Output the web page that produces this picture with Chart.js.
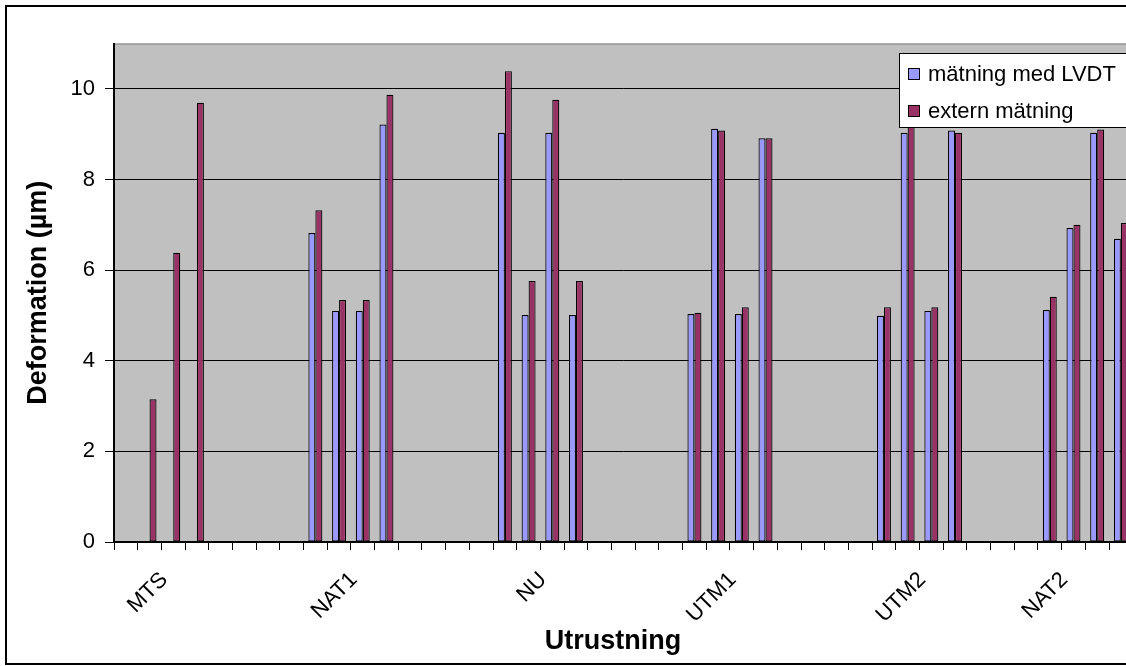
<!DOCTYPE html>
<html><head><meta charset="utf-8">
<script src="https://cdn.jsdelivr.net/npm/chart.js@4"></script>
<style>html,body{margin:0;padding:0;background:#fff;overflow:hidden;width:1126px;height:666px}canvas{display:block}</style>
</head><body>
<canvas id="c" width="1180" height="666"></canvas>
<script>
// 43 category slots; only a few carry a visible label
const categories = ["","","MTS","","","","","","","","NAT1","","","","","","","","NU","","","","","","","","UTM1","","","","","","","","UTM2","","","","","","NAT2","",""];
const seriesNames = ["mätning med LVDT", "extern mätning"];
const lvdtValues = [null,null,null,null,null,null,null,null,
  6.82,5.10,5.10,9.21,null,null,null,null,
  9.03,5.01,9.03,5.01,null,null,null,null,
  5.03,9.12,5.03,8.91,null,null,null,null,
  4.99,9.03,5.10,9.08,null,null,null,
  5.12,6.93,9.03,6.69];
const externValues = [null,3.15,6.38,9.69,null,null,null,null,
  7.32,5.34,5.34,9.87,null,null,null,null,
  10.39,5.76,9.76,5.76,null,null,null,null,
  5.06,9.08,5.18,8.91,null,null,null,null,
  5.18,9.30,5.18,9.03,null,null,null,
  5.41,7.00,9.10,7.04];
const yMin = 0, yMax = 11, yStep = 2;
const xTitle = "Utrustning";
const yTitle = "Deformation (µm)";
const colors = ["#9999FF", "#993366"];
const FONT = "'Liberation Sans', Arial, sans-serif";

const decor = {
  id: 'decor',
  beforeDraw(chart) {
    const {ctx, chartArea: a} = chart;
    ctx.save();
    ctx.fillStyle = '#fff';
    ctx.fillRect(0, 0, chart.width, chart.height);
    ctx.fillStyle = '#C0C0C0';
    ctx.fillRect(a.left, a.top, a.right - a.left, a.bottom - a.top);
    ctx.strokeStyle = '#808080';
    ctx.lineWidth = 1;
    ctx.strokeRect(a.left + 0.5, a.top + 0.5, a.right - a.left, a.bottom - a.top);
    ctx.restore();
  },
  afterDraw(chart) {
    const {ctx, chartArea: a} = chart;
    ctx.save();
    // legend box
    ctx.fillStyle = '#fff';
    ctx.fillRect(899.5, 53.5, 300, 74);
    ctx.strokeStyle = '#000';
    ctx.lineWidth = 1;
    ctx.strokeRect(899.5, 53.5, 300, 74);
    const rows = [74, 111];
    ctx.font = "22px " + FONT;
    ctx.textBaseline = 'middle';
    ctx.textAlign = 'left';
    for (let i = 0; i < 2; i++) {
      const y = rows[i];
      ctx.fillStyle = colors[i];
      ctx.fillRect(908.5, y - 5.5, 11, 11);
      ctx.strokeStyle = '#000';
      ctx.strokeRect(908.5, y - 5.5, 11, 11);
      ctx.fillStyle = '#000';
      ctx.fillText(seriesNames[i], 928, y + 1);
    }
    // axis titles
    ctx.font = "bold 27px " + FONT;
    ctx.textAlign = 'center';
    ctx.fillStyle = '#000';
    ctx.fillText(xTitle, 613, 642);
    ctx.translate(39, (a.top + a.bottom) / 2);
    ctx.rotate(-Math.PI / 2);
    ctx.fillText(yTitle, 0, 0);
    ctx.restore();
    // outer frame
    ctx.save();
    ctx.strokeStyle = '#000';
    ctx.lineWidth = 2;
    ctx.strokeRect(6, 6, chart.width + 20, 658);
    ctx.restore();
  }
};

new Chart(document.getElementById('c'), {
  type: 'bar',
  data: {
    labels: categories,
    datasets: [
      {label: seriesNames[0], data: lvdtValues, backgroundColor: colors[0], borderColor: '#000', borderWidth: 1.2, borderSkipped: false},
      {label: seriesNames[1], data: externValues, backgroundColor: colors[1], borderColor: '#000', borderWidth: 1.2, borderSkipped: false}
    ]
  },
  options: {
    responsive: false,
    animation: false,
    devicePixelRatio: 1,
    layout: {padding: {left: 0, top: 43.5, right: 47.3, bottom: 0}},
    datasets: {bar: {categoryPercentage: 0.59, barPercentage: 1}},
    plugins: {legend: {display: false}, tooltip: {enabled: false}},
    scales: {
      x: {
        afterFit(s) { s.height = 124; },
        grid: {offset: true, drawOnChartArea: false, drawTicks: true, tickLength: 8, color: '#000', lineWidth: 1},
        border: {color: '#000', width: 2},
        ticks: {autoSkip: false, maxRotation: 45, minRotation: 45, padding: 17, labelOffset: -9, color: '#000', font: {family: FONT, size: 22}}
      },
      y: {
        min: yMin, max: yMax,
        afterFit(s) { s.width = 114; },
        grid: {color: '#000', lineWidth: 1, tickLength: 9},
        border: {color: '#000', width: 2},
        ticks: {stepSize: yStep, includeBounds: false, padding: 10, color: '#000', font: {family: FONT, size: 22}}
      }
    }
  },
  plugins: [decor]
});
</script>
</body></html>
